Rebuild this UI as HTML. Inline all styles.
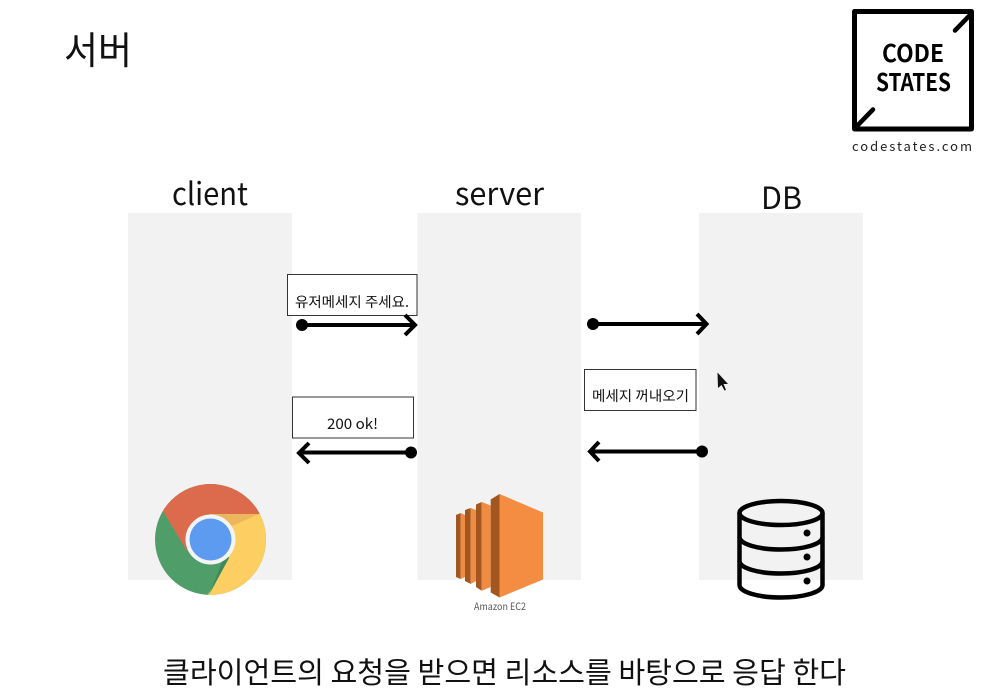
<!DOCTYPE html>
<html><head><meta charset="utf-8"><style>
html,body{margin:0;padding:0;background:#fff}
svg{display:block}
text{font-family:"Noto Sans CJK KR","Liberation Sans",sans-serif;fill:#111}
</style></head><body>
<svg width="992" height="690" viewBox="0 0 992 690" xmlns="http://www.w3.org/2000/svg">
<defs>
<clipPath id="cc"><circle cx="210.500" cy="539.500" r="55.500"/></clipPath>
</defs>
<rect width="992" height="690" fill="#fff"/>
<rect x="128" y="213" width="164" height="367" fill="#f2f2f2"/>
<rect x="417.500" y="213" width="163.500" height="367" fill="#f2f2f2"/>
<rect x="699" y="213" width="164" height="367" fill="#f2f2f2"/>

<text x="64" y="64" font-size="38" textLength="68" lengthAdjust="spacingAndGlyphs">서버</text>
<text x="172" y="205" font-size="31" textLength="76" lengthAdjust="spacingAndGlyphs">client</text>
<text x="455" y="205" font-size="31" textLength="89" lengthAdjust="spacingAndGlyphs">server</text>
<text x="761" y="209" font-size="31" textLength="41" lengthAdjust="spacingAndGlyphs">DB</text>

<!-- logo -->
<rect x="854.500" y="11.500" width="117" height="117.500" fill="#fff" stroke="#000" stroke-width="5" stroke-linejoin="round"/>
<path d="M955 30.500L971 14M857 126L873 109.500" stroke="#000" stroke-width="4.500" stroke-linecap="round" fill="none"/>
<text x="882" y="62" font-size="24" font-weight="700" textLength="62" lengthAdjust="spacingAndGlyphs" style="fill:#000">CODE</text>
<text x="876" y="91" font-size="24" font-weight="700" textLength="75" lengthAdjust="spacingAndGlyphs" style="fill:#000">STATES</text>
<text x="852" y="151" font-size="13" textLength="120" style="fill:#222">codestates.com</text>

<!-- boxes -->
<rect x="287.500" y="274.500" width="129.500" height="41" fill="#fff" stroke="#333" stroke-width="1"/>
<text x="295" y="307" font-size="14" textLength="114" lengthAdjust="spacingAndGlyphs">유저메세지 주세요.</text>
<rect x="292.500" y="397" width="121" height="41" fill="#fff" stroke="#333" stroke-width="1"/>
<text x="327" y="429" font-size="14.500" textLength="51" lengthAdjust="spacingAndGlyphs">200 ok!</text>
<rect x="584.500" y="369.500" width="111.500" height="41" fill="#fff" stroke="#333" stroke-width="1"/>
<text x="592" y="401" font-size="14" textLength="97" lengthAdjust="spacingAndGlyphs">메세지 꺼내오기</text>

<!-- arrows -->
<g fill="none" stroke="#000" stroke-width="4">
<path d="M302 325H414"/><path d="M405 315L415 325L405 335"/>
<path d="M411 452.500H299"/><path d="M309 443L299 453L309 463"/>
<path d="M593 324H705"/><path d="M697 314L706.500 324L697 334"/>
<path d="M702 451.500H591"/><path d="M599 442L590 451.500L599 461"/>
</g>
<circle cx="302" cy="325" r="6"/><circle cx="411" cy="452.500" r="6"/>
<circle cx="593" cy="324" r="6"/><circle cx="702" cy="451.500" r="6"/>

<!-- cursor -->
<path d="M717.500 372.500L728 384L723.500 384L726 390L724.500 390.500L721.500 385L718 388Z" fill="#111"/>

<!-- chrome -->
<g clip-path="url(#cc)">
<rect x="150" y="480" width="120" height="120" fill="#4f9d69"/>
<path d="M163 511L150 480H270V514H210L187 551Z" fill="#dc6a4c"/>
<path d="M270 514V600H205L229 558L210 514Z" fill="#fdcf63"/>
<path d="M210 514L259 514L232 526Z" fill="#ecb65c"/>
<path d="M229 558L209 595L215 580L226 552Z" fill="#3f8a5c"/>
</g>
<circle cx="210.500" cy="539.500" r="25" fill="#f4f4f4"/>
<circle cx="210.500" cy="539.500" r="21" fill="#5c9bf0"/>

<!-- ec2 -->
<path d="M456 515L460.700 513V579L456 577Z" fill="#a3561f"/>
<path d="M460.700 513L465 515V577L460.700 579Z" fill="#f08c42"/>
<path d="M465 510L470.700 508V584L465 581Z" fill="#a3561f"/>
<path d="M470.700 508L476 510V581L470.700 584Z" fill="#f08c42"/>
<path d="M476 504.500L481.700 502V590.700L476 587Z" fill="#a3561f"/>
<path d="M481.700 502L490.700 505.500V587L481.700 590.700Z" fill="#f08c42"/>
<path d="M490.700 499.500L499.500 494V597.500L490.700 592.500Z" fill="#a3561f"/>
<path d="M499.500 494L543 512.500V579.500L499.500 597.500Z" fill="#f48c42"/>
<text x="474" y="610" font-size="10" textLength="52" lengthAdjust="spacingAndGlyphs" style="fill:#555">Amazon EC2</text>

<!-- db -->
<g fill="none" stroke="#000" stroke-width="4.500">
<ellipse cx="781" cy="513" rx="41.500" ry="12"/>
<path d="M739.500 513V585C739.500 592 758 597.500 781 597.500C804 597.500 822.500 592 822.500 585V513"/>
<path d="M739.500 537C739.500 544 758 549.500 781 549.500C804 549.500 822.500 544 822.500 537"/>
<path d="M739.500 561C739.500 568 758 573.500 781 573.500C804 573.500 822.500 568 822.500 561"/>
</g>
<circle cx="807" cy="533" r="3.500"/><circle cx="807" cy="557" r="3.500"/><circle cx="807" cy="581" r="3.500"/>

<text x="163" y="683" font-size="29.500" textLength="683" lengthAdjust="spacingAndGlyphs">클라이언트의 요청을 받으면 리소스를 바탕으로 응답 한다</text>
</svg>
</body></html>
